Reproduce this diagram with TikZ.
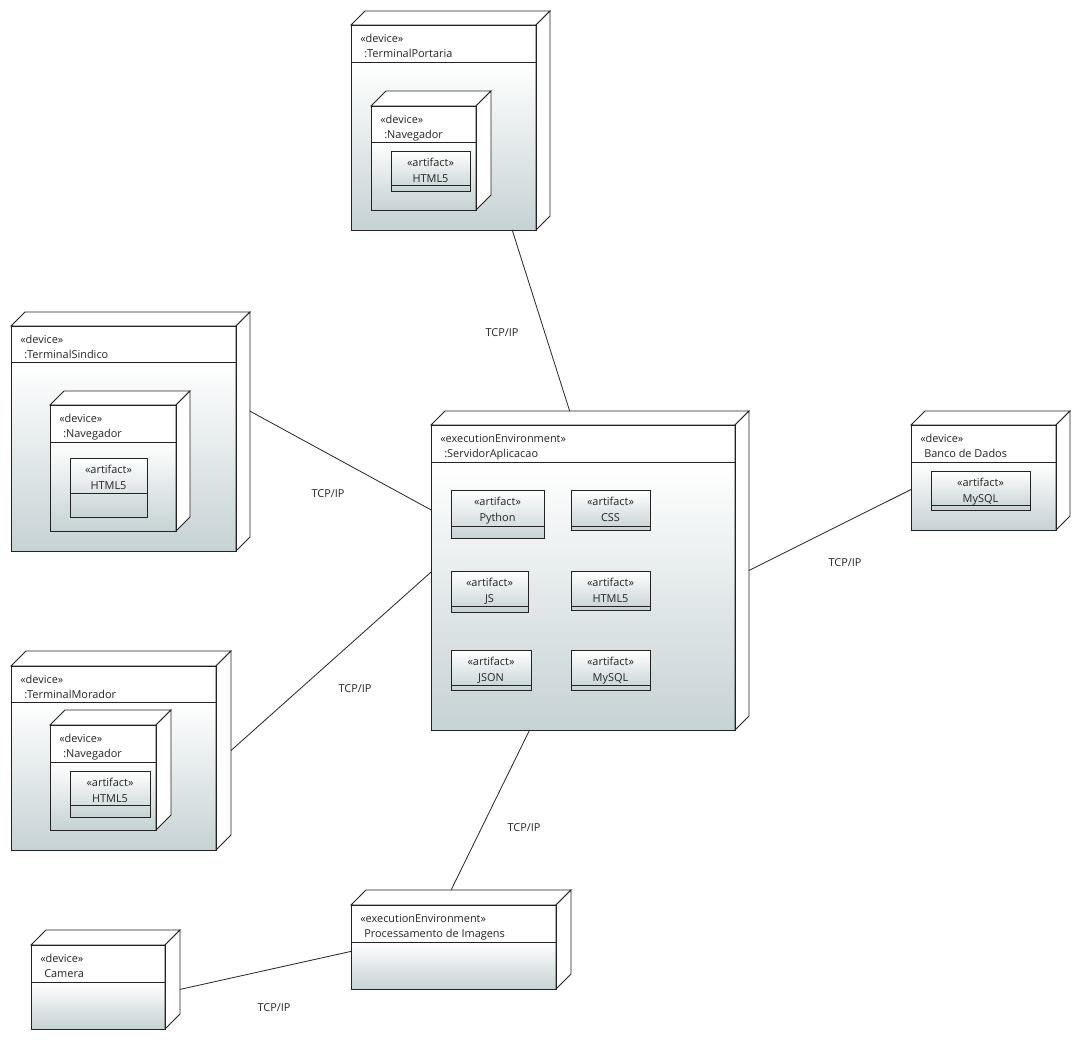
\documentclass[tikz,border=0pt]{standalone}
\usepackage{fontspec}
\setmainfont{Open Sans}
\usetikzlibrary{calc,fit}

\definecolor{bodyc}{RGB}{198,210,212}
\definecolor{inkc}{RGB}{35,35,35}

\tikzset{
  outline/.style={draw=inkc, line width=0.7pt},
  txt/.style={font=\fontsize{8.2}{9}\selectfont, text=inkc, inner sep=0pt},
  link/.style={draw=inkc, line width=0.6pt},
  proto/.style={txt},
  holder/.style={inner sep=0pt, outer sep=0pt},
}

% 3D UML node: name, x1, y1, x2, y2 (front face), separator y, depth, stereotype, title
\newcommand\umlbox[9]{%
  \shade[top color=white, bottom color=bodyc] (#2,#6) rectangle (#4,#5);
  \fill[white] (#2,#3) rectangle (#4,#6);
  \filldraw[outline, fill=white] (#2,#3) -- (#2+#7,#3-#7) -- (#4+#7,#3-#7) -- (#4,#3) -- cycle;
  \filldraw[outline, fill=white] (#4,#3) -- (#4+#7,#3-#7) -- (#4+#7,#5-#7) -- (#4,#5) -- cycle;
  \draw[outline] (#2,#3) rectangle (#4,#5);
  \draw[outline] (#2,#6) -- (#4,#6);
  \node[txt, anchor=base west] at (#2+9,#3+17) {«#8»};
  \node[txt, anchor=base west] at (#2+13,#3+32) {#9};
  \node[holder, fit={(#2,#3-#7) (#4+#7,#5)}] (#1) {};
}

% artifact box: name, x1, y1, x2, y2, separator y, title
\newcommand\umlartifact[7]{%
  \shade[top color=white, bottom color=bodyc] (#2,#3) rectangle (#4,#5);
  \draw[outline] (#2,#3) rectangle (#4,#5);
  \draw[outline] (#2,#6) -- (#4,#6);
  \node[txt, anchor=base] at ({(#2+#4)/2},#3+15) {«artifact»};
  \node[txt, anchor=base] at ({(#2+#4)/2},#3+31) {#7};
  \node[holder, fit={(#2,#3) (#4,#5)}] (#1) {};
}

\begin{document}
\begin{tikzpicture}[x=0.75pt, y=-0.75pt]
\useasboundingbox (0,0) rectangle (1081,1040);

% terminal at the gate
\umlbox{portaria}{351}{25}{536}{230}{62}{14}{device}{:TerminalPortaria}
\umlbox{navP}{371}{106}{476}{210}{142}{15}{device}{:Navegador}
\umlartifact{artP}{391}{151}{470}{191}{185}{HTML5}

% manager terminal
\umlbox{sindico}{11}{326}{236}{551}{362}{14}{device}{:TerminalSindico}
\umlbox{navS}{50}{405}{176}{531}{442}{14}{device}{:Navegador}
\umlartifact{artS}{70}{458}{147}{517}{493}{HTML5}

% resident terminal
\umlbox{morador}{11}{666}{216}{850}{702}{15}{device}{:TerminalMorador}
\umlbox{navM}{50}{725}{156}{830}{762}{15}{device}{:Navegador}
\umlartifact{artM}{70}{771}{150}{817}{805}{HTML5}

% application server
\umlbox{servidor}{431}{425}{735}{730}{462}{14}{executionEnvironment}{:ServidorAplicacao}
\umlartifact{python}{451}{490}{544}{538}{526}{Python}
\umlartifact{css}{571}{490}{650}{530}{526}{CSS}
\umlartifact{js}{451}{571}{528}{612}{606}{JS}
\umlartifact{html}{571}{571}{650}{610}{606}{HTML5}
\umlartifact{json}{451}{650}{531}{690}{685}{JSON}
\umlartifact{mysqlS}{571}{650}{650}{690}{685}{MySQL}

% database
\umlbox{banco}{911}{425}{1056}{530}{462}{14}{device}{Banco de Dados}
\umlartifact{mysqlB}{931}{471}{1030}{510}{505}{MySQL}

% image processing and camera
\umlbox{proc}{351}{905}{556}{989}{942}{15}{executionEnvironment}{Processamento de Imagens}
\umlbox{camera}{31}{945}{165}{1029}{982}{15}{device}{Camera}

% communication paths
\draw[link] ($(portaria.south west)!0.81!(portaria.south east)$) -- ($(servidor.north west)!0.436!(servidor.north east)$);
\draw[link] ($(sindico.north east)!0.415!(sindico.south east)$) -- ($(servidor.north west)!0.31!(servidor.south west)$);
\draw[link] (morador.east) -- ($(servidor.north west)!0.505!(servidor.south west)$);
\draw[link] (servidor.east) -- ($(banco.north west)!0.66!(banco.south west)$);
\draw[link] ($(servidor.south west)!0.31!(servidor.south east)$) -- ($(proc.north west)!0.455!(proc.north east)$);
\draw[link] ($(camera.north east)!0.6!(camera.south east)$) -- ($(proc.north west)!0.62!(proc.south west)$);

% protocol labels
\node[proto] (tcp1) at (502,333) {TCP/IP};
\node[proto] (tcp2) at (328,494) {TCP/IP};
\node[proto] (tcp3) at (355,689) {TCP/IP};
\node[proto] (tcp4) at (845,563) {TCP/IP};
\node[proto] (tcp5) at (524,828) {TCP/IP};
\node[proto] (tcp6) at (274,1008) {TCP/IP};
\end{tikzpicture}
\end{document}
